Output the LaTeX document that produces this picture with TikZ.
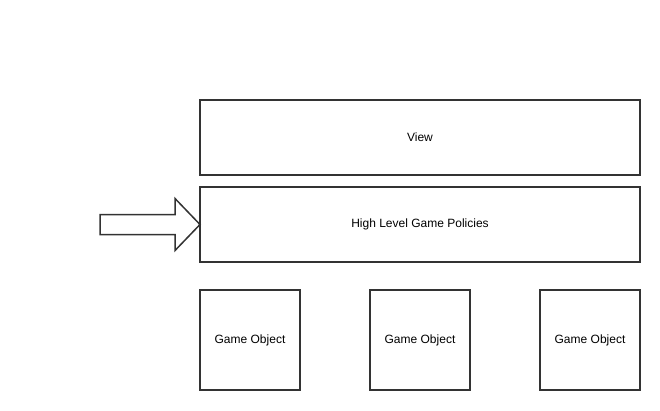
\documentclass[tikz,border=0pt]{standalone}
\usepackage{fontspec}
\setmainfont{Liberation Sans}
\usetikzlibrary{positioning,calc}
\definecolor{edgegray}{RGB}{51, 51, 51}

\begin{document}
\begin{tikzpicture}[
  x=1pt, y=-1pt,
  layer/.style={rectangle, draw=edgegray, line width=1.5pt, outer sep=0pt, minimum width=440pt, minimum height=75pt, font=\fontsize{12}{14}\selectfont},
  obj/.style={rectangle, draw=edgegray, line width=1.5pt, outer sep=0pt, minimum width=100pt, minimum height=100pt, font=\fontsize{12}{14}\selectfont}
]
  \useasboundingbox (0,0) rectangle (660,410);
  \node[layer] (view) at (420,137.5) {View};
  \node[layer, below=12pt of view] (policies) {High Level Game Policies};
  \node[obj, below right=28pt and 0pt of policies.south west] (obj1) {Game Object};
  \node[obj, right=70pt of obj1] (obj2) {Game Object};
  \node[obj, right=70pt of obj2] (obj3) {Game Object};
  % block arrow into the policies layer
  \draw[edgegray, line width=1.5pt, line join=miter]
    (policies.west) -- ++(-25,-26) -- ++(0,16) -- ++(-75,0) -- ++(0,20)
    -- ++(75,0) -- ++(0,16) -- cycle;
\end{tikzpicture}
\end{document}
